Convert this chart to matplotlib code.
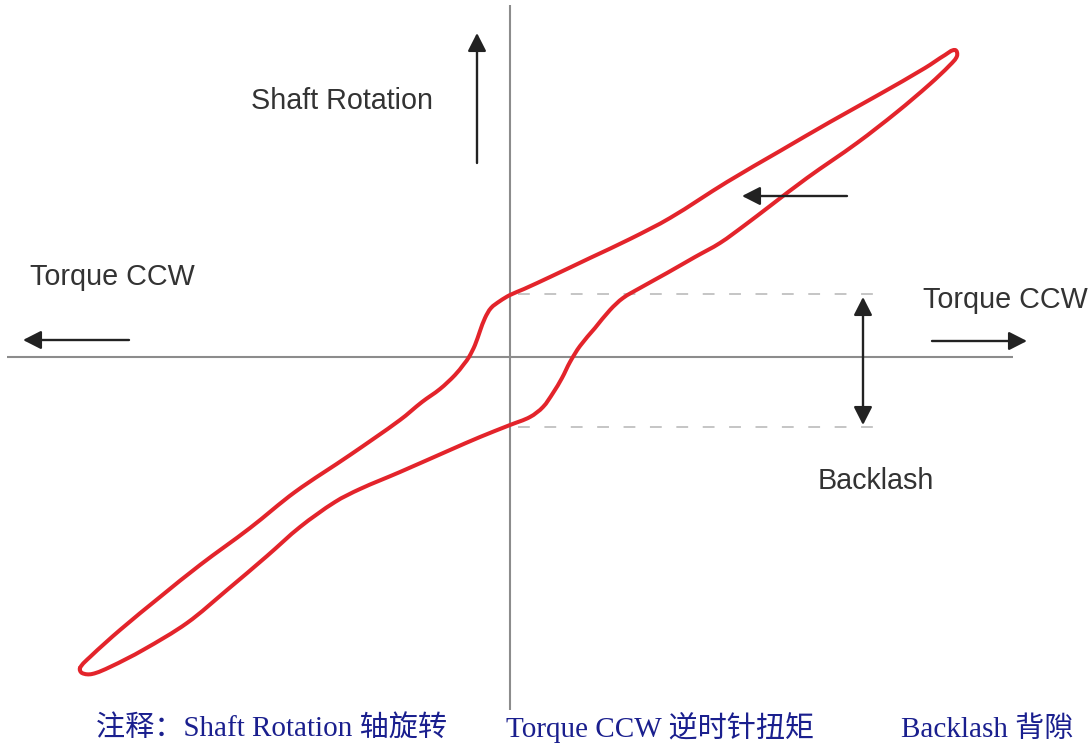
import matplotlib
matplotlib.use("Agg")
import matplotlib.pyplot as plt
from matplotlib.path import Path
from matplotlib.patches import PathPatch
import math

plt.rcParams['lines.scale_dashes'] = False

# Hysteresis loop (pixel-read), origin at the axes crossing
# upper branch: bottom-left tip -> top-right tip
up_torque = [-430, -420, -390, -350, -310, -260, -215, -160, -110, -88, -70, -55, -46, -41,
             -35, -30, -25, -19, -10, 0, 14, 40, 80, 120, 160, 217, 270, 320, 370, 415, 435, 445]
up_rot = [-311, -300, -273, -240, -208, -171, -135, -98, -63, -45, -32, -18, -7, 0,
          12, 26, 39, 49, 56, 62, 68, 80, 99, 118, 139, 175, 206, 235, 263, 289, 302, 307]
# lower branch: top-right tip -> bottom-left tip
lo_torque = [447, 440, 420, 387, 347, 297, 260, 235, 210, 185, 157, 130, 113, 100, 85,
             70, 60, 52, 43, 33, 20, 0, -30, -60, -110, -150, -175, -210, -243, -283,
             -323, -367, -400, -418, -428]
lo_rot = [301, 292, 273, 245, 214, 179, 151, 132, 114, 100, 84, 69, 59, 47, 29,
          11, -5, -21, -36, -50, -60, -68, -80, -93, -115, -132, -145, -170, -199, -233,
          -266, -293, -310, -317, -316]

backlash_top = 63
backlash_bottom = -70

fig = plt.figure(figsize=(10.89, 7.44), dpi=100)
ax = fig.add_axes([0, 0, 1, 1])
ax.set_xlim(-510, 579)
ax.set_ylim(-387, 357)
ax.axis('off')

gray = '#8c8c8c'
ax.plot([-503, 503], [0, 0], color=gray, lw=1.5, solid_capstyle='butt', zorder=1)
ax.plot([0, 0], [-353, 352], color=gray, lw=1.5, solid_capstyle='butt', zorder=1)

for yb in (backlash_top, backlash_bottom):
    ax.plot([8, 373], [yb, yb], color='#b5b5b5', lw=1.1,
            linestyle=(0, (8.5, 10.5)), zorder=1)

# smooth closed path through the loop points
pts = list(zip(up_torque + lo_torque, up_rot + lo_rot))
n = len(pts)


def tangent(i):
    p0 = pts[(i - 1) % n]
    p2 = pts[(i + 1) % n]
    dx, dy = p2[0] - p0[0], p2[1] - p0[1]
    d = math.hypot(dx, dy) or 1.0
    return dx / d, dy / d


verts = [pts[0]]
codes = [Path.MOVETO]
for i in range(n):
    p1 = pts[i]
    p2 = pts[(i + 1) % n]
    L = math.hypot(p2[0] - p1[0], p2[1] - p1[1]) / 3.0
    t1 = tangent(i)
    t2 = tangent((i + 1) % n)
    verts += [(p1[0] + t1[0] * L, p1[1] + t1[1] * L),
              (p2[0] - t2[0] * L, p2[1] - t2[1] * L), p2]
    codes += [Path.CURVE4] * 3
ax.add_patch(PathPatch(Path(verts, codes), facecolor='none', edgecolor='#e3242b',
                       lw=2.9, joinstyle='round', capstyle='round', zorder=3))

ak = dict(arrowstyle='-|>,head_length=0.55,head_width=0.28', color='#222222', lw=1.7,
          shrinkA=0, shrinkB=0, mutation_scale=20)
ax.annotate('', xy=(-33, 324), xytext=(-33, 194), arrowprops=ak)
ax.annotate('', xy=(-487, 17), xytext=(-381, 17), arrowprops=ak)
ax.annotate('', xy=(232, 161), xytext=(337, 161), arrowprops=ak)
ax.annotate('', xy=(517, 16), xytext=(422, 16), arrowprops=ak)
ak2 = dict(ak)
ak2['arrowstyle'] = '<|-|>,head_length=0.55,head_width=0.28'
ax.annotate('', xy=(353, backlash_bottom + 2), xytext=(353, backlash_top - 3), arrowprops=ak2)

lab = dict(fontsize=20.7, color='#333333', family='Liberation Sans', va='baseline', ha='left')
ax.text(-259, 248, 'Shaft Rotation', **lab)
ax.text(-480, 72, 'Torque CCW', **lab)
ax.text(413, 49, 'Torque CCW', **lab)
ax.text(308, -132, 'Backlash', **lab)

cap = dict(fontsize=21, color='#1a1f8e', family=['Liberation Serif', 'Noto Sans CJK SC'],
           va='baseline', ha='left')
ax.text(-414, -380, '注释：Shaft Rotation 轴旋转', **cap)
ax.text(-4, -380, 'Torque CCW 逆时针扭矩', **cap)
ax.text(391, -380, 'Backlash 背隙', **cap)

fig.savefig('out.png', dpi=100)
